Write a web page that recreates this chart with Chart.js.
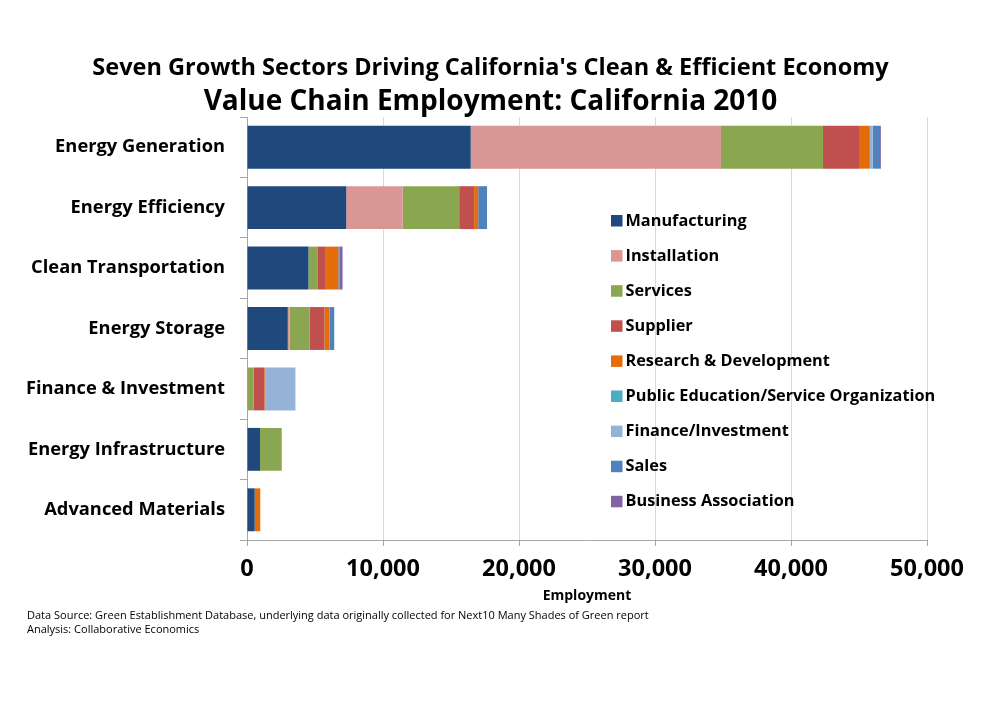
<!DOCTYPE html>
<html>
<head>
<meta charset="utf-8">
<script src="https://cdn.jsdelivr.net/npm/chart.js@4"></script>
<style>
  body { margin: 0; background: #fff; }
  #wrap { position: relative; width: 988px; height: 704px; }
  .note { position: absolute; left: 27px; font: 11px "Open Sans", sans-serif; color: #000; white-space: nowrap; }
  .head { position: absolute; left: 0; width: 981px; text-align: center; font-family: "Open Sans", sans-serif;
          font-weight: bold; color: #000; white-space: nowrap; }
</style>
</head>
<body>
<div id="wrap">
  <canvas id="chart"></canvas>
  <div class="head" style="top:52px; font-size:23.5px; line-height:28px">Seven Growth Sectors Driving California's Clean &amp; Efficient Economy</div>
  <div class="head" style="top:83px; font-size:28px; line-height:32px">Value Chain Employment: California 2010</div>
  <div class="note" style="top:607px">Data Source: Green Establishment Database, underlying data originally collected for Next10 Many Shades of Green report</div>
  <div class="note" style="top:621px">Analysis: Collaborative Economics</div>
</div>
<script>
// categories, top to bottom
const sectors = ["Energy Generation", "Energy Efficiency", "Clean Transportation", "Energy Storage",
                 "Finance & Investment", "Energy Infrastructure", "Advanced Materials"];

// employment by value chain segment
const manufacturing = [16450, 7300, 4520, 3000, 0, 960, 565];
const installation  = [18400, 4150, 0, 125, 0, 0, 0];
const services      = [7500, 4150, 650, 1470, 485, 1595, 0];
const supplier      = [2650, 1100, 625, 1100, 795, 0, 0];
const research      = [800, 300, 920, 375, 60, 0, 410];
const publicEdu     = [0, 0, 0, 0, 0, 0, 0];
const finance       = [200, 0, 0, 0, 2220, 0, 0];
const sales         = [550, 650, 80, 345, 0, 0, 0];
const businessAssoc = [60, 0, 230, 0, 0, 0, 0];

const xTicks = [0, 10000, 20000, 30000, 40000, 50000];

const series = [
    { label: "Manufacturing", data: manufacturing, color: "#1F497D" },
    { label: "Installation", data: installation, color: "#D99694" },
    { label: "Services", data: services, color: "#8BA650" },
    { label: "Supplier", data: supplier, color: "#C0504D" },
    { label: "Research & Development", data: research, color: "#E46C0A" },
    { label: "Public Education/Service Organization", data: publicEdu, color: "#4BACC6" },
    { label: "Finance/Investment", data: finance, color: "#95B3D7" },
    { label: "Sales", data: sales, color: "#4F81BD" },
    { label: "Business Association", data: businessAssoc, color: "#8064A2" }
];

// legend drawn inside the plot, like the original
const insideLegend = {
    id: "insideLegend",
    afterDraw(chart) {
        const ctx = chart.ctx;
        ctx.save();
        ctx.font = "bold 16.3px 'Open Sans'";
        ctx.textBaseline = "middle";
        ctx.textAlign = "left";
        chart.data.datasets.forEach((ds, i) => {
            const y = 221 + i * 35.1;
            ctx.fillStyle = ds.backgroundColor;
            ctx.fillRect(611, y - 6, 11.5, 11.5);
            ctx.fillStyle = "#000";
            ctx.fillText(ds.label, 625.5, y);
        });
        ctx.restore();
    }
};

const ctx = document.getElementById("chart").getContext("2d");
new Chart(ctx, {
    type: "bar",
    data: {
        labels: sectors,
        datasets: series.map(s => ({
            label: s.label,
            data: s.data,
            backgroundColor: s.color,
            borderWidth: 0,
            barPercentage: 0.71,
            categoryPercentage: 1
        }))
    },
    options: {
        indexAxis: "y",
        responsive: true,
        maintainAspectRatio: false,
        animation: false,
        layout: { padding: { left: 0, right: 61, top: 117, bottom: 96.6 } },
        plugins: {
            legend: { display: false },
            tooltip: { enabled: false }
        },
        scales: {
            x: {
                stacked: true,
                min: 0,
                max: 50000,
                afterBuildTicks: scale => { scale.ticks = xTicks.map(v => ({ value: v })); },
                afterFit: scale => { scale.height = 67.4; },
                ticks: {
                    color: "#000",
                    padding: 9,
                    font: { family: "'Open Sans'", size: 23.5, weight: "bold" },
                    callback: v => v.toLocaleString("en-US")
                },
                grid: { color: "#d9d9d9", tickColor: "#a6a6a6", tickLength: 6 },
                border: { color: "#a6a6a6" },
                title: {
                    display: true,
                    text: "Employment",
                    color: "#000",
                    font: { family: "'Open Sans'", size: 14, weight: "bold" },
                    padding: { top: 4, bottom: 3 }
                }
            },
            y: {
                stacked: true,
                afterFit: scale => { scale.width = 247; },
                ticks: {
                    color: "#000",
                    padding: 15,
                    font: { family: "'Open Sans'", size: 18.3, weight: "bold" }
                },
                grid: { offset: true, drawOnChartArea: false, tickColor: "#a6a6a6", tickLength: 7 },
                border: { color: "#a6a6a6" }
            }
        }
    },
    plugins: [insideLegend]
});
</script>
</body>
</html>
